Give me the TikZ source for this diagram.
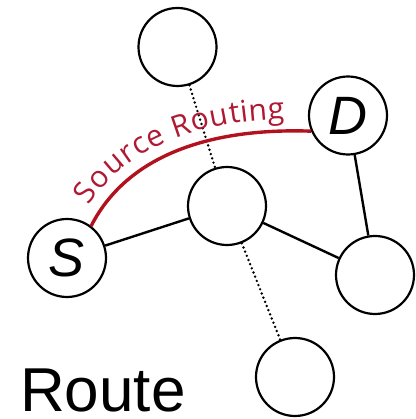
\documentclass[tikz,border=0pt]{standalone}
\usepackage{fontspec}
\setmainfont{Liberation Sans}
\newfontfamily\arcfont{Open Sans}
\usetikzlibrary{decorations.text}
\definecolor{arcred}{RGB}{178,18,30}
\definecolor{txtred}{RGB}{175,25,50}
\begin{document}
\begin{tikzpicture}[x=1pt,y=1pt,
  nodec/.style={circle, draw, line width=2.2pt, minimum size=78pt, inner sep=0pt,
    font=\fontsize{54}{54}\selectfont\itshape},
  link/.style={line width=2.4pt},
  dots/.style={line width=2.7pt, line cap=round, dash pattern=on 0pt off 4.5pt}]
\useasboundingbox (0,0) rectangle (415,419);
% nodes
\node[nodec] (T) at (177.5,372) {};
\node[nodec] (D) at (348,303.5) {D};
\node[nodec] (M) at (227,213) {};
\node[nodec] (S) at (67,161) {S};
\node[nodec] (R) at (375,144) {};
\node[nodec] (B) at (295,42) {};
% connectors
\draw[link] (S) -- (M);
\draw[link] (M) -- (R);
\draw[link] (D) -- (R);
\draw[dots] (T) -- (M);
\draw[dots] (M) -- (B);
% source routing arc
\draw[arcred, line width=3.4pt] (S.53) .. controls (130,269) and (220,291) .. (D.203);
\path[decorate, decoration={text along path, raise=12pt,
    text={|\arcfont\fontsize{30}{30}\selectfont\color{txtred}|Source Routing},
    text align={left indent=15pt}}]
  (S.53) .. controls (130,269) and (220,291) .. (D.203);
% title
\node[anchor=base west, inner sep=0pt, font=\fontsize{62}{62}\selectfont] (title) at (20,7) {Route};
\end{tikzpicture}
\end{document}
